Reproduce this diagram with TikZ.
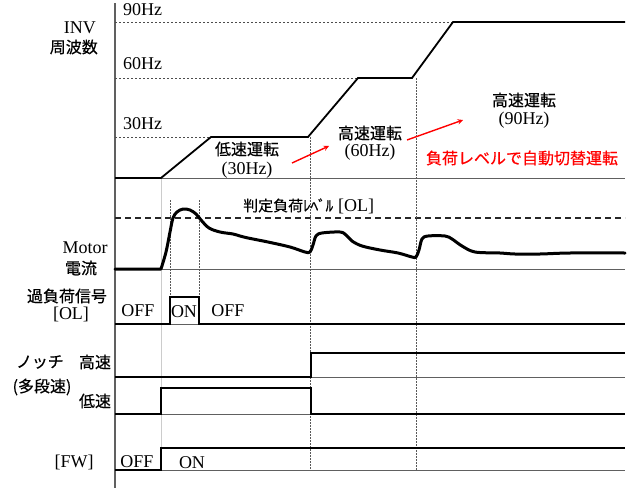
\documentclass[tikz,border=0pt]{standalone}
\usepackage{fontspec}
\setmainfont{Liberation Serif}
\newfontfamily\jp[FakeBold=0.4]{Noto Sans CJK JP}
\begin{document}
\begin{tikzpicture}[x=1pt, y=-1pt,
        base/.style={draw=gray!75!black, line width=0.9pt},
        sig/.style={draw=black, line width=1.8pt, line join=miter},
        curr/.style={draw=black, line width=3pt, line join=round, line cap=round},
        guide/.style={draw=gray!70!black, line width=0.7pt, dash pattern=on 1.5pt off 1.5pt},
        hzline/.style={draw=gray!60!black, line width=0.7pt, dash pattern=on 2pt off 2pt},
        olline/.style={draw=black!85, line width=1.4pt, dash pattern=on 6pt off 4pt},
        lbl/.style={font=\fontsize{18}{19}\selectfont, inner sep=0pt},
        jlbl/.style={font=\jp\fontsize{16}{18}\selectfont, inner sep=0pt},
        redarrow/.style={->, red, line width=1.4pt, -stealth}
    ]
        \useasboundingbox (0,0) rectangle (640,490);

        % axis, levels and base lines
        \draw[base, line width=1.3pt] (115,3) -- (115,488);
        \draw[hzline] (115,22) -- (453,22);
        \draw[hzline] (115,78) -- (358,78);
        \draw[hzline] (115,137) -- (211,137);
        \foreach \y in {178,269,324,377,414,470}
            \draw[base] (115,\y) -- (625,\y);
        \draw[olline] (115,218) -- (625,218);

        \draw[draw=gray!40, line width=0.8pt] (161,178) -- (161,448);
        \draw[guide] (170,200) -- (170,323);
        \draw[guide] (199,200) -- (199,323);
        \draw[guide] (310,137) -- (310,470);
        \draw[guide] (416,78) -- (416,470);

        % signals
        \draw[sig] (115,178) -- (161,178) -- (211,137) -- (308,137) -- (358,78) -- (412,78) -- (453,22) -- (625,22);
        \draw[curr] (115,269) -- (161,269)
            plot[smooth, tension=0.55] coordinates {(161,269) (166,252) (170,232) (173,218) (177,212) (183,209) (190,210) (196,214) (201,220) (209,228) (220,232) (233,234) (240,236) (248,238) (268,242) (290,247) (305,252) (310,252) (313,245) (316,236) (322,233) (340,232) (346,235) (352,241) (362,246) (380,250) (398,253) (412,257) (416,257) (419,250) (422,239) (428,236) (445,236) (452,239) (462,246) (475,252) (500,253) (515,254) (540,254) (570,253) (625,253)};
        \draw[sig] (115,324) -- (170,324) -- (170,297) -- (199,297) -- (199,324) -- (625,324);
        \draw[sig] (115,377) -- (311,377) -- (311,353) -- (625,353);
        \draw[sig] (115,414) -- (161,414) -- (161,388) -- (311,388) -- (311,414) -- (625,414);
        \draw[sig] (115,470) -- (161,470) -- (161,448) -- (625,448);

        % labels
        \node[lbl, anchor=west] (hz90) at (123,10) {90Hz};
        \node[lbl, anchor=west] (hz60) at (123,64) {60Hz};
        \node[lbl, anchor=west] (hz30) at (123,124) {30Hz};
        \node[lbl, anchor=east] (inv) at (96,28) {INV};
        \node[jlbl, anchor=east] (freq) at (98,47) {周波数};

        \node[jlbl] (low) at (247,149) {低速運転};
        \node[lbl] (lowhz) at (247,170) {(30Hz)};
        \node[jlbl] (mid) at (370,133) {高速運転};
        \node[lbl] (midhz) at (370,152) {(60Hz)};
        \node[jlbl] (high) at (524,100) {高速運転};
        \node[lbl] (highhz) at (524,120) {(90Hz)};
        \node[jlbl, text=red] (auto) at (522,158) {負荷レベルで自動切替運転};

        \coordinate (a1) at (292,163);
        \coordinate (a2) at (329,146);
        \coordinate (b1) at (407,140);
        \coordinate (b2) at (463,120);
        \draw[redarrow] (a1) -- (a2);
        \draw[redarrow] (b1) -- (b2);

        \node[jlbl, anchor=west, font=\jp\fontsize{15}{17}\selectfont] (ollvl) at (243,206) {判定負荷ﾚﾍﾞﾙ\hspace{5pt}\rmfamily\fontsize{18}{19}\selectfont[OL]};
        \node[lbl] (motor) at (85,248) {Motor};
        \node[jlbl] (amp) at (81,268) {電流};

        \node[jlbl] (olsig) at (67,296) {過負荷信号};
        \node[lbl] (oltag) at (71,314) {[OL]};
        \node[lbl] (oloff) at (138,311) {OFF};
        \node[lbl] (olon) at (184,312) {ON};
        \node[lbl] (oloff2) at (228,311) {OFF};

        \node[jlbl] (notch) at (40,362) {ノッチ};
        \node[jlbl] (multi) at (42,387) {(多段速)};
        \node[jlbl] (hs) at (95,362) {高速};
        \node[jlbl] (ls) at (95,401) {低速};

        \node[lbl] (fw) at (74,462) {[FW]};
        \node[lbl] (fwoff) at (137,462) {OFF};
        \node[lbl] (fwon) at (192,463) {ON};
    \end{tikzpicture}
\end{document}
